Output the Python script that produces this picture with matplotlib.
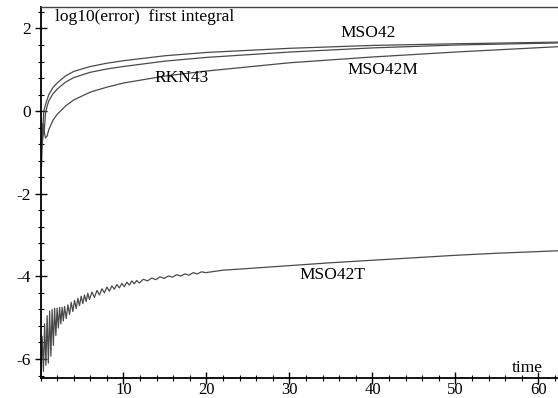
import matplotlib
matplotlib.use("Agg")
import matplotlib.pyplot as plt
from matplotlib.ticker import MultipleLocator

# ---- data ----
t_mso42 = [0.03, 0.12, 0.25, 0.4, 0.55, 0.7, 1.0, 1.5, 2, 3, 4, 6, 8, 10, 15, 20, 30, 40, 50, 62.4]
v_mso42 = [-0.4, -1.35, -0.5, 0.0, 0.12, 0.22, 0.40, 0.57, 0.68, 0.85, 0.96, 1.08, 1.16, 1.22, 1.34, 1.42, 1.52, 1.59, 1.63, 1.67]

t_rkn43 = [0.03, 0.15, 0.3, 0.45, 0.6, 0.8, 1.0, 1.5, 2, 3, 4, 6, 8, 10, 15, 20, 30, 40, 50, 62.4]
v_rkn43 = [-0.3, -0.9, -0.3, -0.5, -0.05, 0.12, 0.25, 0.42, 0.53, 0.70, 0.81, 0.94, 1.02, 1.08, 1.21, 1.30, 1.43, 1.53, 1.60, 1.65]

t_mso42m = [0.03, 0.2, 0.4, 0.6, 0.8, 1.0, 1.5, 2, 3, 4, 6, 8, 10, 15, 20, 30, 40, 50, 62.4]
v_mso42m = [-0.2, -0.8, -0.45, -0.65, -0.6, -0.45, -0.22, -0.08, 0.12, 0.27, 0.46, 0.58, 0.68, 0.85, 0.97, 1.17, 1.31, 1.43, 1.56]

t_mso42t = [0.05, 0.20, 0.35, 0.50, 0.65, 0.80, 0.95, 1.10, 1.25, 1.40, 1.55, 1.70, 1.85, 2.00,
            2.15, 2.30, 2.45, 2.60, 2.75, 2.90,
            3.1, 3.3, 3.5, 3.7, 3.9, 4.1, 4.3, 4.5, 4.7, 4.9, 5.1, 5.3, 5.5, 5.7, 5.9,
            6.2, 6.5, 6.8, 7.1, 7.4, 7.7, 8.0, 8.3, 8.6, 8.9, 9.2, 9.5, 9.8, 10.1, 10.4,
            10.7, 11.0, 11.3, 11.6, 11.9,
            12.4, 12.9, 13.4, 13.9, 14.4, 14.9, 15.4, 15.9, 16.4, 16.9, 17.4, 17.9, 18.4,
            18.9, 19.4, 19.9,
            22, 25, 30, 35, 40, 45, 50, 55, 60, 62.4]
v_mso42t = [-6.40, -5.45, -6.30, -5.15, -6.15, -4.95, -6.10, -4.84, -5.93, -4.80, -5.67, -4.77, -5.43, -4.77,
            -5.25, -4.75, -5.15, -4.75, -5.08, -4.73,
            -5.02, -4.69, -4.92, -4.63, -4.85, -4.58, -4.78, -4.53, -4.71, -4.48, -4.66, -4.45, -4.61, -4.41, -4.56,
            -4.38, -4.51, -4.34, -4.45, -4.30, -4.40, -4.26, -4.36, -4.23, -4.31, -4.20, -4.28, -4.17, -4.25, -4.14,
            -4.21, -4.11, -4.18, -4.10, -4.16,
            -4.07, -4.11, -4.04, -4.08, -4.01, -4.05, -3.99, -4.02, -3.96, -3.99, -3.94, -3.97, -3.91,
            -3.94, -3.89, -3.91,
            -3.85, -3.81, -3.74, -3.67, -3.61, -3.55, -3.49, -3.44, -3.40, -3.38]

x_major = [10, 20, 30, 40, 50, 60]
y_major = [-6, -4, -2, 0, 2]
title_text = "log10(error)  first integral"
x_label_text = "time"

W, H = 558, 398
fig = plt.figure(figsize=(W / 100, H / 100), dpi=100)
ax = fig.add_axes([40.5 / W, 20 / H, (W - 40.5) / W, (378 - 7) / H])

serif = ["Liberation Serif", "DejaVu Serif"]
lc = "#4a4a4a"
for tt, vv in [(t_mso42, v_mso42), (t_rkn43, v_rkn43), (t_mso42m, v_mso42m), (t_mso42t, v_mso42t)]:
    ax.plot(tt, vv, color=lc, lw=0.9)

ax.set_xlim(0, 62.35)
ax.set_ylim(-6.46, 2.52)

ax.spines["right"].set_visible(False)
for s in ["left", "bottom"]:
    ax.spines[s].set_color("black")
    ax.spines[s].set_linewidth(1.3)
ax.spines["top"].set_color("#444444")
ax.spines["top"].set_linewidth(1.0)

ax.set_xticks(x_major)
ax.set_yticks(y_major)
ax.xaxis.set_minor_locator(MultipleLocator(2))
ax.yaxis.set_minor_locator(MultipleLocator(0.4))
ax.tick_params(which="major", direction="inout", length=8, width=1.0, color="black")
ax.tick_params(which="minor", direction="inout", length=5, width=0.8, color="black")
ax.tick_params(axis="x", which="major", pad=-1)
ax.tick_params(axis="y", which="major", pad=3)
ax.xaxis.set_ticks_position("bottom")
ax.yaxis.set_ticks_position("left")
ax.set_yticklabels([str(v) for v in y_major])
for lab in ax.get_xticklabels() + ax.get_yticklabels():
    lab.set_fontfamily(serif)
    lab.set_fontsize(12.5)
for lab in ax.get_xticklabels():
    lab.set_fontsize(12)

fs = 12.5
ax.text(1.75, 2.28, title_text, family=serif, fontsize=fs, ha="left", va="center")
ax.text(39.5, 1.89, "MSO42", family=serif, fontsize=fs, ha="center", va="center")
ax.text(17.0, 0.80, "RKN43", family=serif, fontsize=fs, ha="center", va="center")
ax.text(41.3, 0.99, "MSO42M", family=serif, fontsize=fs, ha="center", va="center")
ax.text(35.2, -3.97, "MSO42T", family=serif, fontsize=fs, ha="center", va="center")
ax.text(58.7, -6.22, x_label_text, family=serif, fontsize=fs, ha="center", va="center")

fig.savefig("out.png", dpi=100)
